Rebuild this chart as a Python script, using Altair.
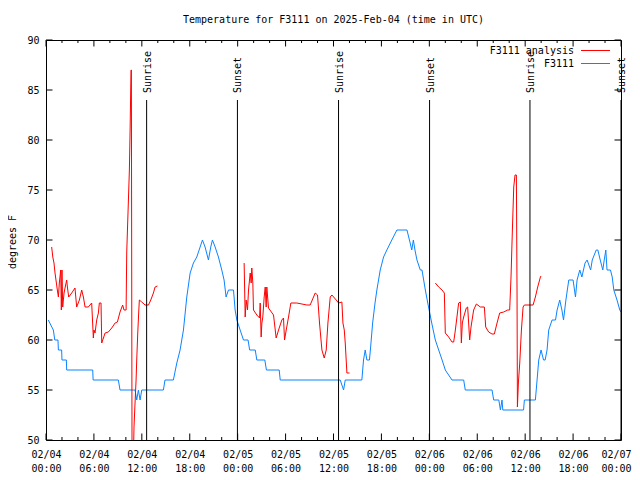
import altair as alt
import pandas as pd

START = pd.Timestamp("2025-02-04T00:00:00")
FONT = "DejaVu Sans Mono"
W, H = 575, 400

# observed F3111 (hours since 02/04 00:00 UTC, deg F)
obs_hours = [0.29, 0.6, 0.92, 1.1, 1.5, 1.55, 1.96, 2.0, 2.55, 2.59, 5.85, 5.9, 9.06, 9.27, 11.15,
             11.36, 11.57, 11.78, 11.99, 14.7, 14.9, 15.95, 16.2, 16.38, 16.79, 17.21, 17.63, 18.05,
             18.46, 18.88, 19.3, 19.59, 19.92, 20.34, 20.63, 20.84, 21.18, 21.59, 22.01, 22.3, 22.55,
             22.85, 23.48, 23.68, 23.9, 24.31, 24.73, 25.3, 25.5, 26.2, 26.4, 27.4, 27.6, 29.2, 29.33,
             36.84, 37.26, 37.47, 39.55, 39.76, 39.97, 40.18, 40.5, 40.65, 40.9, 41.2, 41.43, 41.85,
             42.27, 42.68, 43.3, 43.94, 45.2, 45.6, 45.8, 46.0, 46.2, 46.45, 46.87, 47.08, 47.5, 47.9,
             48.3, 48.75, 49.17, 49.6, 50.0, 50.84, 52.3, 52.5, 55.85, 56.06, 56.7, 56.9, 57.1, 57.2,
             59.8, 59.9, 61.28, 61.49, 61.7, 61.99, 62.3, 62.5, 62.74, 62.95, 63.37, 63.8, 64.0, 64.33,
             64.6, 64.8, 65.1, 65.46, 66.0, 66.3, 66.5, 66.84, 67.1, 67.3, 67.5, 67.76, 68.2, 68.4,
             68.9, 69.1, 69.4, 69.72, 69.9, 70.1, 70.25, 70.68, 70.9, 71.1, 71.5, 71.85, 72.0]
obs_temps = [62, 61.5, 61, 60, 60, 59, 59, 58, 58, 57, 57, 56, 56, 55, 55,
             54, 55, 54, 55, 55, 56, 56, 57, 57.7, 59, 61, 64.3, 66.7,
             67.7, 68.3, 69.3, 70, 69.3, 68, 69.3, 70, 69.3, 68.3, 67, 66, 64.3,
             65, 65, 63, 62, 61, 60, 60, 59, 59, 58, 58, 57, 57, 56,
             56, 55, 56, 56, 58, 59, 58, 58, 59.3, 61.7, 63.7, 65, 67,
             68.3, 69, 70, 71, 71, 69.7, 69, 70, 69, 68, 67, 67, 65, 63.3,
             61.7, 60, 59, 58, 57, 56, 56, 55, 55, 54, 54, 53, 54, 53,
             53, 54, 54, 56, 58, 59, 58, 58, 59, 61, 62, 62, 63, 64,
             63, 62, 64, 66, 66, 64.3, 66, 67, 66.3, 67, 67.7, 68, 67, 68,
             69, 69, 68, 67, 68, 69, 67, 67, 66.3, 65, 64, 63, 62.8]

# F3111 analysis (None marks a gap between runs)
ana_hours = [0.71, 0.85, 1.0, 1.13, 1.42, 1.55, 1.67, 1.84, 1.92, 2.0, 2.09, 2.26, 2.51, 2.59, 2.68,
             2.84, 3.22, 3.63, 3.84, 4.18, 4.47, 4.68, 4.89, 5.3, 5.72, 5.93, 6.0, 6.14, 6.35, 6.56,
             6.68, 6.89, 6.98, 7.4, 7.81, 8.23, 8.65, 8.94, 9.27, 9.6, 9.77, 10.03, 10.11, 10.28,
             10.44, 10.53, 10.61, 10.65, 10.69, 10.78, 10.86, 11.02, 11.15, 11.28, 11.36, 11.49,
             11.61, 11.69, 11.99, 12.41, 12.83, 13.12, 13.45, 13.66, 13.95,
             None,
             24.81, 24.94, 25.06, 25.23, 25.36, 25.57, 25.69, 25.77, 25.9, 25.98, 26.4, 26.74, 26.82,
             26.94, 27.03, 27.15, 27.32, 27.45, 27.57, 27.65, 27.86, 28.49, 28.82, 29.12, 29.53,
             29.74, 29.87, 30.08, 30.37, 30.66, 31.41, 32.67, 33.08, 33.71, 34.0, 34.25, 34.55,
             34.84, 35.09, 35.3, 35.59, 35.8, 36.34, 36.64, 37.05, 37.18, 37.35, 37.47, 37.68, 38.01,
             None,
             48.75, 49.17, 49.59, 49.88, 50.0, 50.42, 50.84, 51.05, 51.26, 51.67, 51.88, 52.01,
             52.13, 52.3, 52.63, 52.8, 53.05, 53.22, 53.55, 53.89, 54.39, 54.89, 55.06, 55.43,
             55.85, 56.14, 56.48, 56.81, 57.31, 57.81, 58.06, 58.23, 58.4, 58.57, 58.73, 58.9,
             58.98, 59.03, 59.15, 59.32, 59.53, 59.74, 59.9, 60.99, 61.28, 61.57, 61.91, 61.99]
ana_temps = [69.3, 68.3, 67.7, 66.7, 65, 64.3, 65.7, 67, 63, 67, 63.3, 64.7, 65.7, 66, 65.3,
             64.3, 64.7, 65.2, 63.3, 64, 65, 64.3, 63.3, 63.3, 63.7, 60.2, 61, 60.7, 62, 62.7,
             63.7, 63.7, 59.7, 60.7, 60.8, 61.2, 61.7, 61.8, 62.8, 63.5, 63, 63, 68.8, 73,
             77, 81, 85, 87, 87, 45, 45, 51.3, 53.7, 56, 58, 60.7,
             62.8, 64, 63.8, 63.5, 63.5, 64, 64.7, 65.3, 65.4,
             None,
             67.7, 62.3, 64, 63, 65, 66.7, 65.7, 67.2, 65.7, 63, 62.5, 62.2, 63.7,
             60.3, 61.7, 62.3, 64.3, 65.3, 63.3, 65.3, 63.2, 62.5, 60.2, 61, 62,
             62.2, 60, 61, 62.3, 63.7, 63.7, 63.5, 63.5, 64.7, 64.5, 61.7, 59,
             58.2, 59, 61.7, 64.3, 64.5, 64, 63.7, 63.8, 61.7, 61, 59.7, 56.7, 56.7,
             None,
             65.7, 65.3, 65, 64.7, 60.7, 60.3, 59.8, 59.8, 61, 63.7, 63.8, 59.7,
             61.7, 62.3, 63.2, 63.3, 60, 61.3, 63, 63.6, 63.3, 63.3, 61.3, 60.8,
             60.6, 60.6, 61.7, 62.7, 62.8, 63, 63, 66.3, 71, 75.3, 76.5, 76.5,
             65, 53.3, 55.7, 57.7, 61, 63.3, 63.5, 63.5, 64.3, 65.3, 66.3, 66.4]

sun_hours = [12.6, 23.97, 36.63, 48.03, 60.6, 72.0]
sun_labels = ["Sunrise", "Sunset", "Sunrise", "Sunset", "Sunrise", "Sunset"]

y_tick_values = [50, 55, 60, 65, 70, 75, 80, 85, 90]
x_major_hours = list(range(0, 73, 6))
x_minor_hours = [h for h in range(0, 73, 2) if h % 6 != 0]


def iso(hours):
    return [(START + pd.Timedelta(hours=h)).strftime("%Y-%m-%dT%H:%M:%SZ") for h in hours]


seg_hours, seg_temps, seg_ids = [], [], []
seg = 0
for h, t in zip(ana_hours, ana_temps):
    if h is None:
        seg += 1
        continue
    seg_hours.append(h)
    seg_temps.append(t)
    seg_ids.append(seg)

obs_df = pd.DataFrame({"time": iso(obs_hours), "temp": obs_temps})
ana_df = pd.DataFrame({"time": iso(seg_hours), "temp": seg_temps, "seg": seg_ids})
sun_df = pd.DataFrame({"time": iso(sun_hours), "label": sun_labels})
ytick_df = pd.DataFrame({"temp": y_tick_values})
xmaj_df = pd.DataFrame({"time": iso(x_major_hours)})
xmin_df = pd.DataFrame({"time": iso(x_minor_hours)})

dom = [alt.DateTime(year=2025, month=2, date=4, hours=0, utc=True),
       alt.DateTime(year=2025, month=2, date=7, hours=0, utc=True)]
x_vals = [alt.DateTime(year=2025, month=2, date=4 + h // 24, hours=h % 24, utc=True) for h in x_major_hours]

x_axis = alt.Axis(values=x_vals, title=None, ticks=False, tickSize=0, domain=False, grid=False,
                  labelExpr="[utcFormat(datum.value, '%m/%d'), utcFormat(datum.value, '%H:%M')]",
                  labelFont=FONT, labelFontSize=10, labelColor="black", labelPadding=9,
                  labelLineHeight=14, labelBaseline="top", labelFlush=False, labelOverlap=False,
                  labelOffset={"condition": {"test": "datum.index > 0.99", "value": -5}, "value": 0})
y_axis = alt.Axis(values=y_tick_values, title=None, ticks=False, tickSize=0, domain=False, grid=False,
                  labelFont=FONT, labelFontSize=10, labelColor="black", labelPadding=7)

X = alt.X("time:T", scale=alt.Scale(type="utc", domain=dom), axis=x_axis)
Y = alt.Y("temp:Q", scale=alt.Scale(domain=[50, 90]), axis=y_axis)

BLUE = "#0a84ff"
RED = "#ff0000"

obs = alt.Chart(obs_df).mark_line(color=BLUE, strokeWidth=1, clip=True).encode(x=X, y=Y)
ana = alt.Chart(ana_df).mark_line(color=RED, strokeWidth=1, clip=True).encode(
    x=X, y=Y, detail="seg:N")

sun_rules = alt.Chart(sun_df).mark_rule(color="black", strokeWidth=1).encode(
    x=X, y=alt.value(60), y2=alt.value(H))
sun_text = alt.Chart(sun_df).mark_text(font=FONT, fontSize=10, angle=270, align="left",
                                       baseline="middle", color="black", dy=1).encode(
    x=X, y=alt.value(53), text="label:N")

ytick_l = alt.Chart(ytick_df).mark_rule(color="black", strokeWidth=1).encode(
    y=Y, x=alt.value(0), x2=alt.value(6.5))
ytick_r = alt.Chart(ytick_df).mark_rule(color="black", strokeWidth=1).encode(
    y=Y, x=alt.value(W - 6.5), x2=alt.value(W))
xmaj_b = alt.Chart(xmaj_df).mark_rule(color="black", strokeWidth=1).encode(
    x=X, y=alt.value(H - 6.5), y2=alt.value(H))
xmaj_t = alt.Chart(xmaj_df).mark_rule(color="black", strokeWidth=1).encode(
    x=X, y=alt.value(0), y2=alt.value(6.5))
xmin_b = alt.Chart(xmin_df).mark_rule(color="black", strokeWidth=1).encode(
    x=X, y=alt.value(H - 3), y2=alt.value(H))
xmin_t = alt.Chart(xmin_df).mark_rule(color="black", strokeWidth=1).encode(
    x=X, y=alt.value(0), y2=alt.value(3))

legend_names = ["F3111 analysis", "F3111"]
legend_colors = [RED, BLUE]
leg_df = pd.DataFrame({"name": legend_names, "row": [0, 1]})
leg_text = alt.Chart(leg_df).transform_calculate(py="10.5 + datum.row * 13").mark_text(
    font=FONT, fontSize=10, align="right", baseline="middle", color="black").encode(
    x=alt.value(528), y=alt.Y("py:Q", scale=None), text="name:N")
leg_lines = alt.Chart(leg_df).transform_calculate(py="10.5 + datum.row * 13").mark_rule(strokeWidth=1).encode(
    x=alt.value(535), x2=alt.value(564), y=alt.Y("py:Q", scale=None),
    color=alt.Color("name:N", scale=alt.Scale(domain=legend_names, range=legend_colors), legend=None))

title = alt.Chart(pd.DataFrame({"t": ["Temperature for F3111 on 2025-Feb-04 (time in UTC)"]})).mark_text(
    font=FONT, fontSize=10, align="center", baseline="middle", color="black").encode(
    x=alt.value(W / 2), y=alt.value(-20), text="t:N")
ytitle = alt.Chart(pd.DataFrame({"t": ["degrees F"]})).mark_text(
    font=FONT, fontSize=10, align="center", baseline="middle", angle=270, color="black").encode(
    x=alt.value(-33), y=alt.value(H / 2 + 2), text="t:N")

chart = alt.layer(
    obs, ana, sun_rules, sun_text, ytick_l, ytick_r, xmaj_b, xmaj_t, xmin_b, xmin_t,
    leg_lines, leg_text, title, ytitle
).properties(
    width=W, height=H,
    autosize=alt.AutoSizeParams(type="none"),
    padding={"left": 38, "top": 32, "right": 11, "bottom": 32},
    background="white",
).configure_view(stroke="black", strokeWidth=1).resolve_scale(color="independent")

chart.save("out.html", embed_options={"renderer": "svg", "actions": False})
